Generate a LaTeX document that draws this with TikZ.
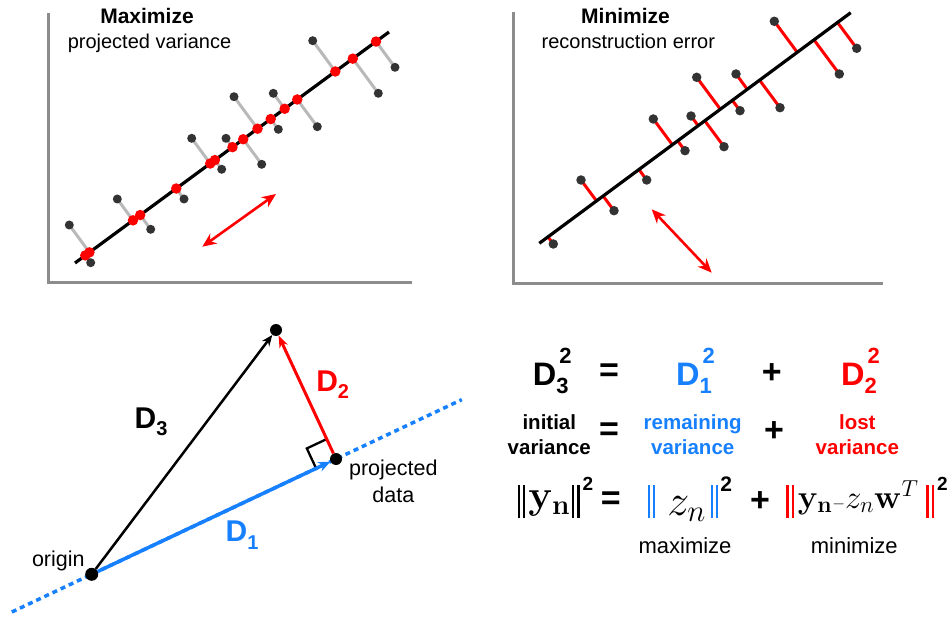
\RequirePackage{fix-cm}
\documentclass[tikz,border=0pt]{standalone}
\usepackage[no-math]{fontspec}
\setmainfont{Liberation Sans}
\usetikzlibrary{calc,arrows.meta}
\definecolor{myblue}{RGB}{23,128,255}
\definecolor{myred}{RGB}{255,0,0}
\definecolor{dotgray}{RGB}{51,51,51}
\definecolor{axisgray}{RGB}{140,140,140}
\definecolor{projgray}{RGB}{185,185,185}
\newcommand{\fs}[1]{\fontsize{#1}{#1}\selectfont}
\newcommand{\Dlab}[1]{\fs{30}\bfseries D\raisebox{-7.5pt}{\fs{20}#1}}
\newcommand{\Dsq}[1]{\fs{32.5}\bfseries D\rlap{\raisebox{-8.3pt}{\fs{22}#1}}\hspace{3pt}\raisebox{21.7pt}{\fs{22}2}}
% double bar: colour, depth below baseline
\newcommand{\dbar}[2]{{\color{#1}\rule[#2]{2.3pt}{33pt}\hspace{3pt}\rule[#2]{2.3pt}{33pt}}}
\newcommand{\sqtwo}[2]{\raisebox{#1}{\fs{#2}\bfseries 2}}
\begin{document}
\begin{tikzpicture}[x=1pt,y=-1pt,
  axisline/.style={draw=axisgray, line width=3pt},
  fitline/.style={black, line width=3.2pt},
  projline/.style={projgray, line width=3pt},
  errline/.style={myred, line width=3pt},
  graydot/.style={circle, fill=dotgray, inner sep=0pt, minimum size=9pt},
  reddot/.style={circle, fill=myred, inner sep=0pt, minimum size=10.5pt},
  dirarrow/.style={myred, line width=2.6pt, {Stealth[length=14pt,width=12pt]}-{Stealth[length=14pt,width=12pt]}},
  bigdot/.style={circle, fill=black, inner sep=0pt, minimum size=13pt},
  title/.style={font=\fs{21}\bfseries, inner sep=0pt, anchor=base},
  subtitle/.style={font=\fs{20}, inner sep=0pt, anchor=base},
  lab/.style={font=\fs{21.5}, inner sep=0pt, anchor=base},
  eqlab/.style={font=\fs{20.5}\bfseries, inner sep=0pt, anchor=base},
  op/.style={font=\fs{34}\bfseries, inner sep=0pt},
  piece/.style={inner sep=0pt, anchor=base west}
]
\useasboundingbox (0,0) rectangle (949,617);

% ---------- top-left plot ----------
\draw[axisline] (48.5,13) -- (48.5,282.7) -- (411.7,282.7);
\coordinate (LA) at (75,263);
\coordinate (LB) at (389,32);
\foreach \px/\py [count=\i] in {69.3/225, 90.7/262.7, 117.3/199, 150.7/229.3, 184/199, 191.7/138.3, 221.7/169.3, 226/138.3, 261.7/164.3, 234/96.7, 278.3/129.3, 273.3/93.3, 317.3/126.7, 312.7/40.7, 378.3/93.3, 395/67.3}{
  \coordinate (lp\i) at (\px,\py);
  \coordinate (lq\i) at ($(LA)!(lp\i)!(LB)$);
}
\foreach \i in {1,...,16}{\draw[projline] (lp\i) -- (lq\i);}
\draw[fitline] (LA) -- (LB);
\foreach \i in {1,...,16}{\node[graydot] (lg\i) at (lp\i) {};}
\foreach \i in {1,...,16}{\node[reddot] (lr\i) at (lq\i) {};}
\coordinate (la1) at (202.3,246.7);
\coordinate (la2) at (276,194);
\draw[dirarrow] (la1) -- (la2);
\node[title] (maxt) at (147,23.3) {Maximize};
\node[subtitle] (maxs) at (149.5,48.3) {projected variance};

% ---------- top-right plot ----------
\draw[axisline] (513.5,12) -- (513.5,283.3) -- (883,283.3);
\coordinate (RA) at (539.3,243.3);
\coordinate (RB) at (850.7,12.7);
\foreach \px/\py [count=\i] in {553.3/244, 581/180, 614/210.7, 646.7/180, 653.3/119, 685/150.7, 691/116, 724/146.7, 696.7/77.3, 740/110.7, 736/74, 780/107.7, 774.3/21.3, 839.3/74, 856.7/48.3}{
  \coordinate (rp\i) at (\px,\py);
  \coordinate (rq\i) at ($(RA)!(rp\i)!(RB)$);
}
\foreach \i in {1,...,15}{\draw[errline] (rp\i) -- (rq\i);}
\draw[fitline] (RA) -- (RB);
\foreach \i in {1,...,15}{\node[graydot, minimum size=9.5pt] (rg\i) at (rp\i) {};}
\coordinate (ra1) at (651.7,209.3);
\coordinate (ra2) at (711.7,272.7);
\draw[dirarrow] (ra1) -- (ra2);
\node[title] (mint) at (625.5,23.3) {Minimize};
\node[subtitle] (mins) at (628.3,48.3) {reconstruction error};

% ---------- bottom-left triangle ----------
\coordinate (oc) at (91.7,574.3);
\coordinate (tc) at (276,330);
\coordinate (pc) at (336,459);
\draw[myblue, line width=3.5pt, dash pattern=on 5pt off 4pt] ($(oc)!-0.327!(pc)$) -- ($(oc)!1.515!(pc)$);
\coordinate (rm1) at ($(pc)!22pt!(tc)$);
\coordinate (rm2) at ($(pc)!22pt!(oc)$);
\coordinate (rm3) at ($(rm1)+(rm2)-(pc)$);
\draw[black, line width=2.3pt] (rm1) -- (rm3) -- (rm2);
\node[bigdot] (O) at (oc) {};
\node[bigdot, minimum size=12pt] (T) at (tc) {};
\node[bigdot, minimum size=12pt] (P) at (pc) {};
\draw[black, line width=2.5pt, -{Stealth[length=11pt,width=9pt]}] (O) -- (T);
\draw[myred, line width=3pt, -{Stealth[length=12pt,width=9pt]}] (P) -- (T);
\draw[myblue, line width=3.5pt, -{Stealth[length=12pt,width=10pt]}] (O) -- (P);
\node[lab] (orig) at (58.3,566) {origin};
\node[lab] (pd1) at (393.3,475.7) {projected};
\node[lab] (pd2) at (393.3,502.7) {data};
\node[piece] (d3) at (134.5,428.3) {\Dlab{3}};
\node[piece, text=myred] (d2) at (316.1,391) {\Dlab{2}};
\node[piece, text=myblue] (d1) at (225.5,541.7) {\Dlab{1}};

% ---------- bottom-right equations ----------
\node[piece] (e1a) at (532.6,385) {\Dsq{3}};
\node[op] (e1b) at (609,372.5) {=};
\node[piece, text=myblue] (e1c) at (676,385) {\Dsq{1}};
\node[op] (e1d) at (771.7,373.3) {+};
\node[piece, text=myred] (e1e) at (841,385) {\Dsq{2}};

\node[eqlab] (e2a1) at (549.3,429.3) {initial};
\node[eqlab] (e2a2) at (549.3,454) {variance};
\node[op] (e2b) at (609,432) {=};
\node[eqlab, text=myblue] (e2c1) at (692.7,429.3) {remaining};
\node[eqlab, text=myblue] (e2c2) at (692.7,454) {variance};
\node[op] (e2d) at (774,432) {+};
\node[eqlab, text=myred] (e2e1) at (857.3,429.3) {lost};
\node[eqlab, text=myred] (e2e2) at (857.3,454) {variance};

\node[piece] (e3a) at (517.5,508) {\dbar{black}{-10pt}\hspace{3pt}{\fs{40}$\mathbf{y}_{\mathbf{n}}$}\hspace{2pt}\dbar{black}{-10pt}\hspace{3pt}\sqtwo{18pt}{19}};
\node[op] (e3b) at (610.8,501) {=};
\node[piece] (e3c) at (647.5,515) {\dbar{myblue}{-3pt}\hspace{12pt}{\fs{44}$z_n$}\hspace{5pt}\dbar{myblue}{-3pt}\hspace{2pt}\sqtwo{23.3pt}{21}};
\node[op] (e3d) at (760,501.7) {+};
\node[piece] (e3e) at (786,508) {\dbar{myred}{-10pt}\hspace{4pt}{\fs{33}$\mathbf{y}_{\mathbf{n}}{\scriptscriptstyle -}z_n\mathbf{w}^T$}\hspace{8pt}\dbar{myred}{-10pt}\hspace{3pt}\sqtwo{18pt}{19}};
\node[lab, font=\fs{22}] (maxw) at (685,553.3) {maximize};
\node[lab, font=\fs{22}] (minw) at (854.3,553.3) {minimize};
\end{tikzpicture}
\end{document}
